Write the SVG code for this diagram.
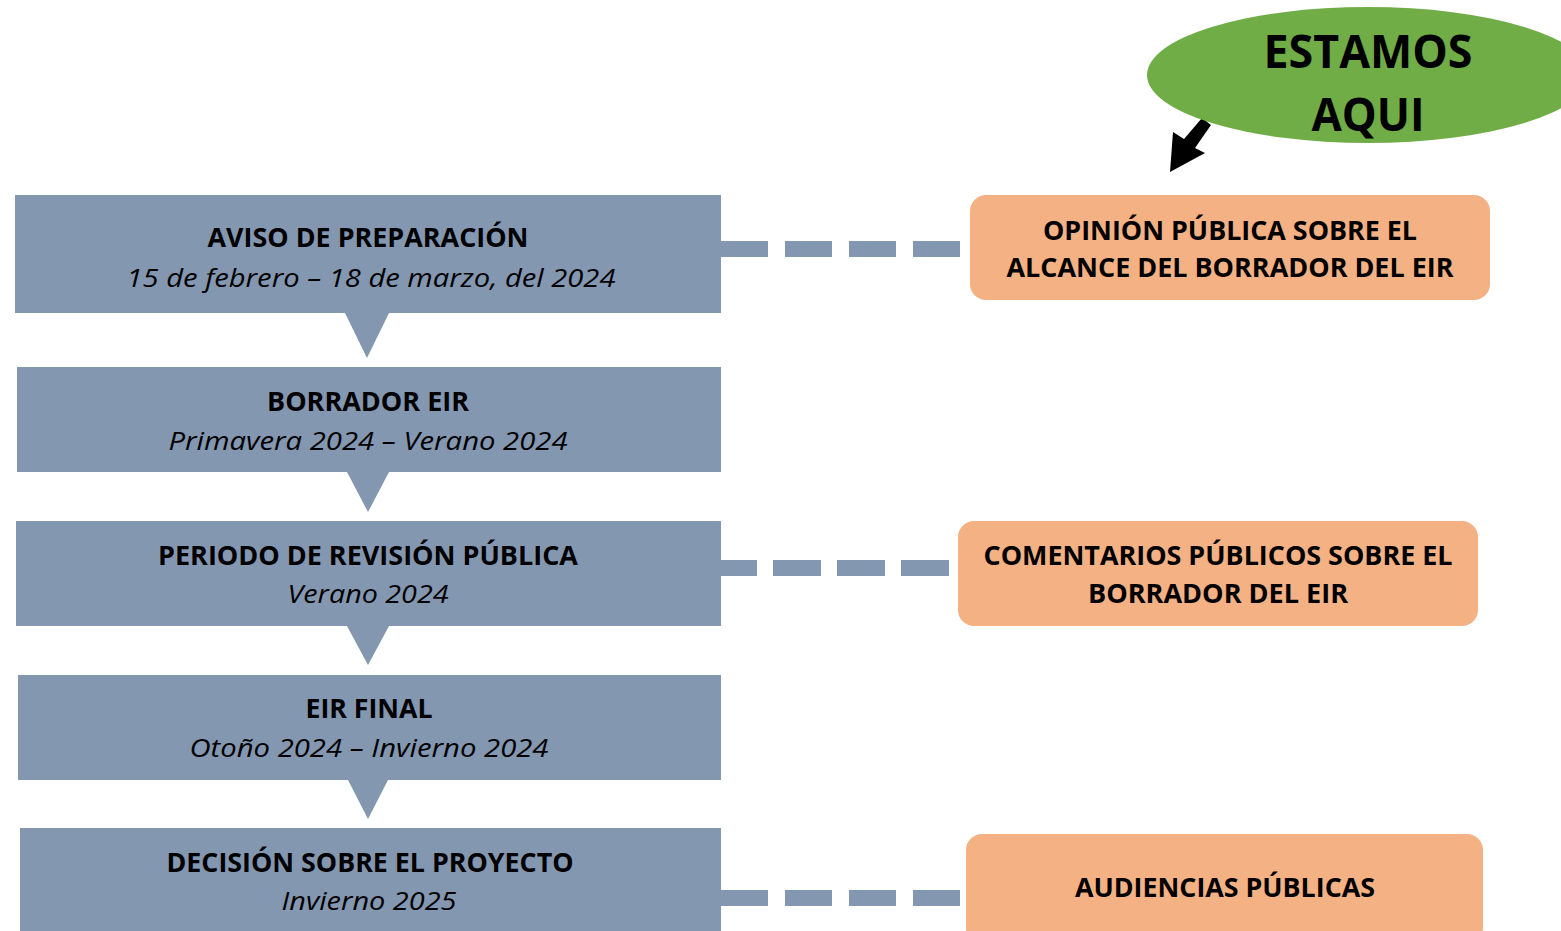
<svg xmlns="http://www.w3.org/2000/svg" width="1561" height="931" viewBox="0 0 1561 931">
<style>
.step{fill:#8497B0}
.out{fill:#F4B183}
.t{font-family:"Open Sans","Liberation Sans",sans-serif;font-weight:bold;font-size:27px;fill:#000;text-anchor:middle}
.i{font-family:"Open Sans","Liberation Sans",sans-serif;font-style:italic;font-size:26px;fill:#000;text-anchor:middle}
.big{font-family:"Open Sans","Liberation Sans",sans-serif;font-weight:bold;font-size:46px;fill:#000;text-anchor:middle}
.dash{stroke:#8497B0;stroke-width:16;stroke-dasharray:47 17;fill:none}
</style>
<rect width="1561" height="931" fill="#fff"/>
<g id="connectors">
<line class="dash" x1="721" y1="249" x2="960" y2="249"/>
<line class="dash" x1="721" y1="568" x2="949" y2="568" style="stroke-dasharray:36 16 48 16 48 16 48"/>
<line class="dash" x1="721" y1="898" x2="960" y2="898"/>
<polygon class="step" points="345,313 389,313 367,358"/>
<polygon class="step" points="347,472 389,472 368,512"/>
<polygon class="step" points="347,626 389,626 368,665"/>
<polygon class="step" points="348,780 388,780 368,819"/>
</g>
<g id="n1">
<rect class="step" x="15" y="195" width="706" height="118"/>
<text class="t" x="368" y="247" textLength="321" lengthAdjust="spacingAndGlyphs">AVISO DE PREPARACIÓN</text>
<text class="i" x="371" y="287" textLength="489" lengthAdjust="spacingAndGlyphs">15 de febrero – 18 de marzo, del 2024</text>
</g>
<g id="n2">
<rect class="step" x="17" y="367" width="704" height="105"/>
<text class="t" x="368" y="411" textLength="202" lengthAdjust="spacingAndGlyphs">BORRADOR EIR</text>
<text class="i" x="368" y="450" textLength="399" lengthAdjust="spacingAndGlyphs">Primavera 2024 – Verano 2024</text>
</g>
<g id="n3">
<rect class="step" x="16" y="521" width="705" height="105"/>
<text class="t" x="368" y="565" textLength="420" lengthAdjust="spacingAndGlyphs">PERIODO DE REVISIÓN PÚBLICA</text>
<text class="i" x="368" y="603" textLength="161" lengthAdjust="spacingAndGlyphs">Verano 2024</text>
</g>
<g id="n4">
<rect class="step" x="18" y="675" width="703" height="105"/>
<text class="t" x="369" y="718" textLength="127" lengthAdjust="spacingAndGlyphs">EIR FINAL</text>
<text class="i" x="369" y="757" textLength="359" lengthAdjust="spacingAndGlyphs">Otoño 2024 – Invierno 2024</text>
</g>
<g id="n5">
<rect class="step" x="20" y="828" width="701" height="110"/>
<text class="t" x="370" y="872" textLength="407" lengthAdjust="spacingAndGlyphs">DECISIÓN SOBRE EL PROYECTO</text>
<text class="i" x="369" y="910" textLength="175" lengthAdjust="spacingAndGlyphs">Invierno 2025</text>
</g>
<g id="o1">
<rect class="out" x="970" y="195" width="520" height="105" rx="16"/>
<text class="t" x="1230" y="240" textLength="374" lengthAdjust="spacingAndGlyphs">OPINIÓN PÚBLICA SOBRE EL</text>
<text class="t" x="1230" y="277" textLength="447" lengthAdjust="spacingAndGlyphs">ALCANCE DEL BORRADOR DEL EIR</text>
</g>
<g id="o2">
<rect class="out" x="958" y="521" width="520" height="105" rx="16"/>
<text class="t" x="1218" y="565" textLength="469" lengthAdjust="spacingAndGlyphs">COMENTARIOS PÚBLICOS SOBRE EL</text>
<text class="t" x="1218" y="603" textLength="260" lengthAdjust="spacingAndGlyphs">BORRADOR DEL EIR</text>
</g>
<g id="o3">
<rect class="out" x="966" y="834" width="517" height="110" rx="16"/>
<text class="t" x="1225" y="897" textLength="300" lengthAdjust="spacingAndGlyphs">AUDIENCIAS PÚBLICAS</text>
</g>
<g id="here">
<polygon points="1202,118 1211,125 1195,148 1205,153 1170,172 1173,132 1184,139" fill="#000"/>
<ellipse cx="1368" cy="75" rx="221" ry="68" fill="#70AD47"/>
<text class="big" x="1368" y="68" textLength="209" lengthAdjust="spacingAndGlyphs">ESTAMOS</text>
<text class="big" x="1368" y="131" textLength="113" lengthAdjust="spacingAndGlyphs">AQUI</text>
</g>
</svg>
